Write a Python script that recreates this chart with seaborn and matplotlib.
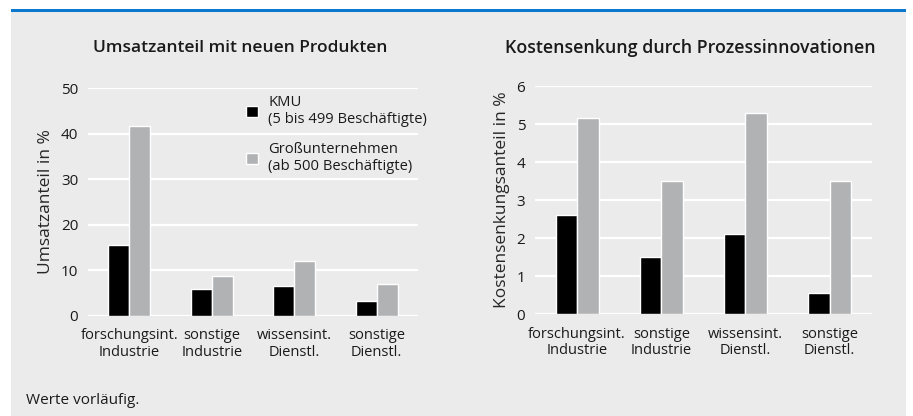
import pandas as pd
import matplotlib
matplotlib.use("Agg")
import matplotlib.pyplot as plt
from matplotlib.patches import Rectangle
import seaborn as sns

# Daten
kategorien = ["forschungsint.\nIndustrie", "sonstige\nIndustrie", "wissensint.\nDienstl.", "sonstige\nDienstl."]
gruppen = ["KMU\n(5 bis 499 Beschäftigte)", "Großunternehmen\n(ab 500 Beschäftigte)"]
umsatz_kmu = [15.5, 5.9, 6.5, 3.2]
umsatz_gross = [41.7, 8.7, 12.0, 7.0]
kosten_kmu = [2.6, 1.5, 2.1, 0.55]
kosten_gross = [5.15, 3.5, 5.3, 3.5]

farben = ["#000000", "#b1b2b4"]
hintergrund = "#ebebeb"


def long_df(kmu, gross):
    rows = []
    for k, a, b in zip(kategorien, kmu, gross):
        rows.append({"kategorie": k, "gruppe": gruppen[0], "wert": a})
        rows.append({"kategorie": k, "gruppe": gruppen[1], "wert": b})
    return pd.DataFrame(rows)


sns.set_style("whitegrid", {
    "axes.facecolor": hintergrund,
    "grid.color": "white",
    "axes.edgecolor": hintergrund,
})
plt.rcParams["font.family"] = ["Open Sans", "DejaVu Sans"]
plt.rcParams["text.color"] = "#1a1a1a"
plt.rcParams["xtick.color"] = "#1a1a1a"
plt.rcParams["ytick.color"] = "#1a1a1a"

fig = plt.figure(figsize=(9.13, 4.16), dpi=100)
W, H = 913, 416

# grauer Kasten + blaue Linie oben
fig.patches.append(Rectangle((11 / W, 0), 895 / W, 404 / H, transform=fig.transFigure,
                             facecolor=hintergrund, edgecolor="none", zorder=-5))
fig.patches.append(Rectangle((11 / W, 404 / H), 895 / W, 3 / H, transform=fig.transFigure,
                             facecolor="#0a78cc", edgecolor="none", zorder=-5))

ax1 = fig.add_axes([88 / W, 100.3 / H, 330 / W, 227.7 / H])
ax2 = fig.add_axes([535 / W, 101.7 / H, 336.7 / W, 228.3 / H])

panels = [
    (ax1, long_df(umsatz_kmu, umsatz_gross), 50, 10, "Umsatzanteil in %"),
    (ax2, long_df(kosten_kmu, kosten_gross), 6, 1, "Kostensenkungsanteil in %"),
]
for ax, df, ymax, step, ylab in panels:
    sns.barplot(data=df, x="kategorie", y="wert", hue="gruppe", palette=farben,
                width=0.51, errorbar=None, ax=ax, saturation=1, legend=(ax is ax1))
    ax.set_facecolor(hintergrund)
    ax.set_xlim(-0.5, 3.5)
    ax.set_ylim(0, ymax)
    ax.set_yticks(range(0, ymax + 1, step))
    ax.grid(axis="y", color="white", linewidth=1.6)
    ax.grid(axis="x", visible=False)
    ax.set_axisbelow(True)
    for s in ax.spines.values():
        s.set_visible(False)
    ax.tick_params(axis="y", length=0, labelsize=11, pad=7)
    ax.tick_params(axis="x", length=0, labelsize=10.5, pad=9)
    ax.set_xlabel("")
    ax.set_ylabel(ylab, fontsize=12.5, labelpad=5)
    for t in ax.get_xticklabels():
        t.set_linespacing(1.15)

ax1.legend(loc="upper left", bbox_to_anchor=(0.479, 0.97), frameon=False, fontsize=10.6,
           handlelength=0.8, handleheight=0.8, handletextpad=0.7, labelspacing=1.0,
           borderpad=0, borderaxespad=0)

fig.text(240 / W, 1 - 48 / H, "Umsatzanteil mit neuen Produkten", ha="center", va="center",
         fontsize=12.5, fontweight="semibold")
fig.text(690 / W, 1 - 48 / H, "Kostensenkung durch Prozessinnovationen", ha="center", va="center",
         fontsize=12.8, fontweight="semibold")
fig.text(26 / W, 1 - 400 / H, "Werte vorläufig.", ha="left", va="center", fontsize=11)

fig.savefig("out.png", dpi=100, facecolor="white")
